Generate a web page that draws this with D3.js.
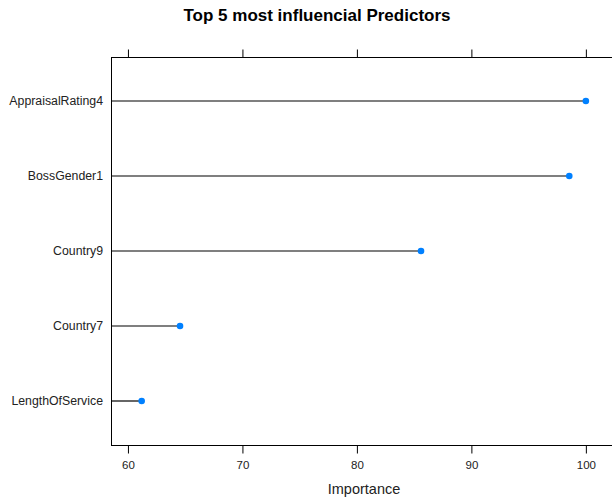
<!DOCTYPE html>
<html><head><meta charset="utf-8">
<script src="https://cdn.jsdelivr.net/npm/d3@7"></script>
<style>body{margin:0;background:#fff}svg{display:block}</style>
</head><body>
<svg id="c" width="612" height="499"></svg>
<script>
const predictors = ["AppraisalRating4","BossGender1","Country9","Country7","LengthOfService"];
const importance = [100, 98.55, 85.6, 64.55, 61.2];
const xTicks = [60, 70, 80, 90, 100];
const title = "Top 5 most influencial Predictors";
const xTitle = "Importance";

const svg = d3.select("#c");
const L = 111, R = 617, T = 57, B = 445;
const x = d3.scaleLinear().domain([58.52, 102.72]).range([L, R]);
const y = d3.scalePoint().domain(predictors).range([T + 44, B - 44]);
const font = "Liberation Sans, Arial, sans-serif";

svg.append("text").attr("x", 317).attr("y", 21).attr("text-anchor", "middle")
  .attr("font-family", font).attr("font-weight", "bold").attr("font-size", 17)
  .attr("fill", "#000").text(title);

// lines
svg.append("g").selectAll("line").data(predictors).join("line")
  .attr("x1", L).attr("x2", (d, i) => x(importance[i]))
  .attr("y1", d => y(d)).attr("y2", d => y(d))
  .attr("stroke", "#000").attr("stroke-width", 1.2);

// panel border
svg.append("rect").attr("x", L + 0.5).attr("y", T + 0.5).attr("width", R - L).attr("height", B - T)
  .attr("fill", "none").attr("stroke", "#000").attr("stroke-width", 1);

// points
svg.append("g").selectAll("circle").data(predictors).join("circle")
  .attr("cx", (d, i) => x(importance[i])).attr("cy", d => y(d)).attr("r", 3.3)
  .attr("fill", "#0080ff");

// bottom axis
const gb = svg.append("g").attr("transform", `translate(0,${B + 0.5})`)
  .call(d3.axisBottom(x).tickValues(xTicks).tickSize(8).tickPadding(7).tickSizeOuter(0));
gb.select(".domain").remove();
gb.selectAll("text").attr("font-family", font).attr("font-size", 11.5).attr("fill", "#222");
gb.selectAll("line").attr("stroke", "#000");

// top axis
const gt = svg.append("g").attr("transform", `translate(0,${T + 0.5})`)
  .call(d3.axisTop(x).tickValues(xTicks).tickSize(8).tickFormat("").tickSizeOuter(0));
gt.select(".domain").remove();
gt.selectAll("line").attr("stroke", "#000");

// left labels
svg.append("g").selectAll("text").data(predictors).join("text")
  .attr("x", L - 8).attr("y", d => y(d)).attr("dy", "0.35em").attr("text-anchor", "end")
  .attr("font-family", font).attr("font-size", 12.3).attr("fill", "#222").text(d => d);

svg.append("text").attr("x", (L + R) / 2).attr("y", 494).attr("text-anchor", "middle")
  .attr("font-family", font).attr("font-size", 14.5).attr("fill", "#222").text(xTitle);
</script>
</body></html>
